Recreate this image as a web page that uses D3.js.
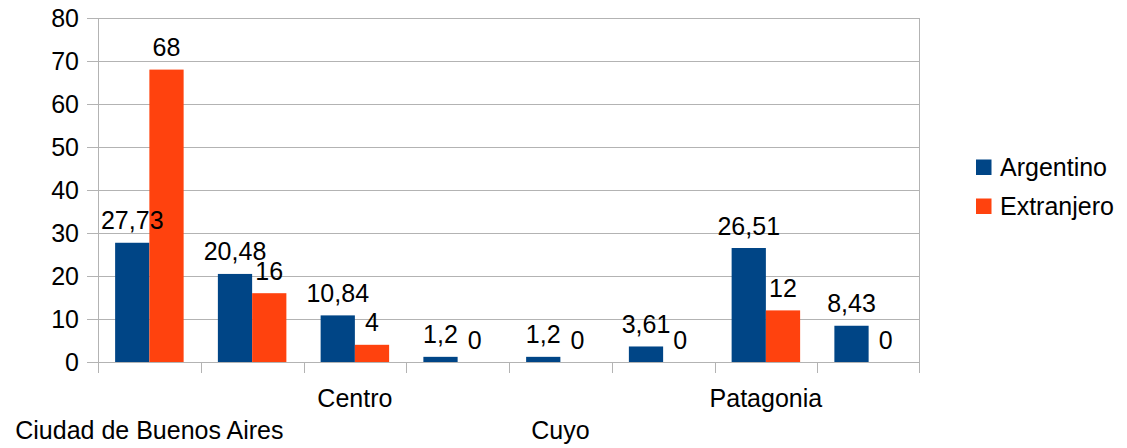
<!DOCTYPE html>
<html><head><meta charset="utf-8">
<script src="https://cdn.jsdelivr.net/npm/d3@7"></script>
<style>
body{margin:0;background:#fff;}
text{font-family:"Liberation Sans",Arial,sans-serif;font-size:25px;fill:#000;}
</style></head>
<body><svg id="c" width="1127" height="448"></svg>
<script>
const categories = ["Ciudad de Buenos Aires","Provincia de Buenos Aires","Centro","Noreste","Cuyo","Noroeste","Patagonia","Sur"];
const series = ["Argentino","Extranjero"];
const argentino = [27.73,20.48,10.84,1.2,1.2,3.61,26.51,8.43];
const extranjero = [68,16,4,0,0,0,12,0];
const yTicks = [0,10,20,30,40,50,60,70,80];
const colors = ["#004586","#ff420e"];

(function(){
const svg = d3.select("#c");
const pLeft = 98, pRight = 920, pTop = 18, pBottom = 362;
const y = d3.scaleLinear().domain([0,80]).range([pBottom, pTop]);
const x = d3.scaleBand().domain(categories).range([pLeft, pRight]).padding(0);
const xs = d3.scaleBand().domain(series).range([0, x.bandwidth()]).paddingInner(0).paddingOuter(0.5);
const fmt = v => String(v).replace(".", ",");
const grid = "#b3b3b3";

// gridlines
svg.append("g").selectAll("line").data(yTicks).join("line")
  .attr("x1", pLeft - 11).attr("x2", pRight)
  .attr("y1", d => Math.round(y(d)) + 0.5).attr("y2", d => Math.round(y(d)) + 0.5)
  .attr("stroke", grid).attr("stroke-width", 1);
// y tick labels
svg.append("g").selectAll("text").data(yTicks).join("text")
  .attr("x", 79).attr("y", d => y(d)).attr("dy", "0.36em")
  .attr("text-anchor", "end").text(d => d);
// vertical axis and right border
svg.append("line").attr("x1", pLeft + 0.5).attr("x2", pLeft + 0.5).attr("y1", pTop).attr("y2", pBottom + 11).attr("stroke", grid);
svg.append("line").attr("x1", pRight - 0.5).attr("x2", pRight - 0.5).attr("y1", pTop).attr("y2", pBottom + 11).attr("stroke", grid);
// category ticks
svg.append("g").selectAll("line").data(categories.slice(1)).join("line")
  .attr("x1", d => Math.round(x(d)) + 0.5).attr("x2", d => Math.round(x(d)) + 0.5)
  .attr("y1", pBottom).attr("y2", pBottom + 11).attr("stroke", grid);

const data = [argentino, extranjero];
// bars first
series.forEach((s, si) => {
  svg.append("g").selectAll("rect").data(data[si]).join("rect")
    .attr("x", (d, i) => x(categories[i]) + xs(s))
    .attr("width", xs.bandwidth())
    .attr("y", d => y(d)).attr("height", d => y(0) - y(d))
    .attr("fill", colors[si]);
});
// value labels on top
series.forEach((s, si) => {
  svg.append("g").selectAll("text").data(data[si]).join("text")
    .attr("x", (d, i) => x(categories[i]) + xs(s) + xs.bandwidth() / 2)
    .attr("y", d => y(d) - 13.5)
    .attr("text-anchor", "middle").text(d => fmt(d));
});

// category labels (every other one shown, staggered)
svg.append("g").selectAll("text").data(categories.filter((d, i) => i % 2 === 0)).join("text")
  .attr("x", d => x(d) + x.bandwidth() / 2)
  .attr("y", d => categories.indexOf(d) % 4 === 0 ? 439 : 407)
  .attr("text-anchor", "middle").text(d => d);

// legend
const lg = svg.append("g");
series.forEach((s, i) => {
  lg.append("rect").attr("x", 976).attr("y", 159.5 + i * 39).attr("width", 15.5).attr("height", 15.5).attr("fill", colors[i]);
  lg.append("text").attr("x", 1000).attr("y", 176 + i * 39).text(s);
});
})();
</script></body></html>
